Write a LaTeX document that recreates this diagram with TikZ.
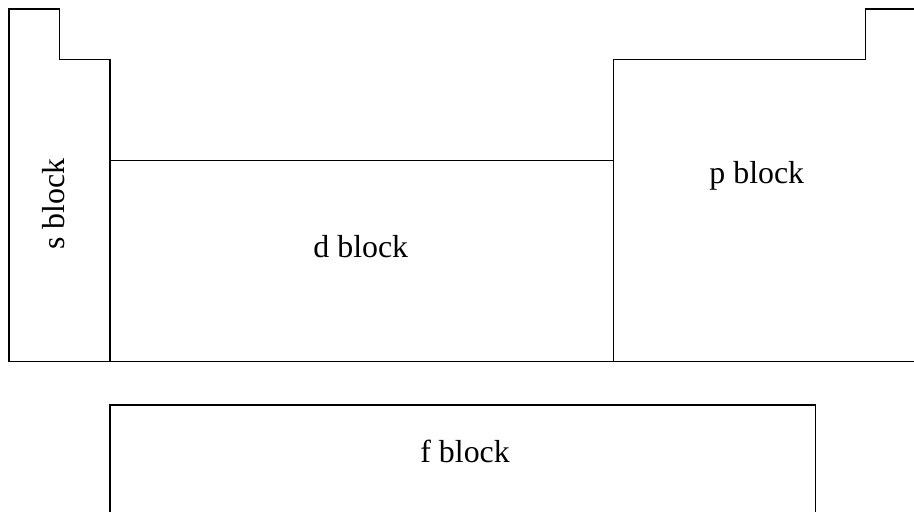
\documentclass[tikz,border=0pt]{standalone}
\usepackage{fontspec}
\setmainfont{Liberation Serif}
\begin{document}
\begin{tikzpicture}[
	blockline/.style={ draw, line width=0.8pt },
	blocklabel/.style={ inner sep=0pt, font=\fontsize{18}{22}\selectfont }
]

\clip (-0.18,0.18) rectangle (17.96,-9.98);

\draw[blockline] (0,0) -- (1,0) -- (1,-1) -- (2,-1) -- (2,-7) -- (0,-7) -- cycle;
\draw[blockline] (2,-3) rectangle (12,-7);
\draw[blockline] (12,-7) -- (12,-1) -- (17,-1) -- (17,0) -- (18,0) -- (18,-7) -- cycle;
\draw[blockline] (2,-10.6) -- (2,-7.86) -- (16,-7.86) -- (16,-10.6);

\node at (0.89,-3.87) (sblock) [blocklabel,rotate=90] {s block};
\node at (6.98,-4.72) (dblock) [blocklabel] {d block};
\node at (14.84,-3.31) (pblock) [blocklabel] {p block};
\node at (9.05,-8.77) (fblock) [blocklabel] {f block};

\end{tikzpicture}
\end{document}
